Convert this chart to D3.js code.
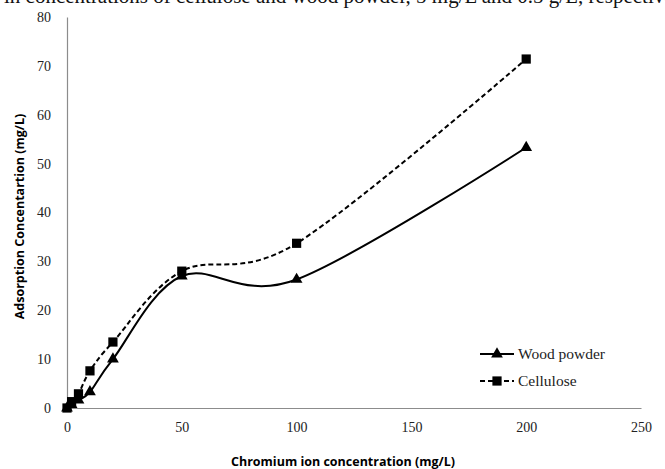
<!DOCTYPE html>
<html>
<head>
<meta charset="utf-8">
<script src="https://cdn.jsdelivr.net/npm/d3@7"></script>
<style>
  body { margin: 0; background: #fff; }
  svg { display: block; }
</style>
</head>
<body>
<svg id="chart"></svg>
<script>
// concentration of chromium ions (mg/L)
const xValues = [0, 2, 5, 10, 20, 50, 100, 200];
const woodPowder = [0, 0.7, 1.6, 3.3, 10, 27, 26.3, 53.3];
const cellulose = [0, 1.3, 2.9, 7.6, 13.5, 28, 33.7, 71.4];
const xTicks = [0, 50, 100, 150, 200, 250];
const yTicks = [0, 10, 20, 30, 40, 50, 60, 70, 80];

const W = 665, H = 469;
const margin = {top: 17, right: 24, bottom: 61, left: 67};

const svg = d3.select('#chart').attr('width', W).attr('height', H);

// line of page text above the figure, mostly cut off by the top edge
svg.append('text')
  .attr('x', 4).attr('y', 3)
  .attr('font-family', 'Liberation Serif, serif')
  .attr('font-size', 21)
  .attr('fill', '#111')
  .text('in concentrations of cellulose and wood powder, 5 mg/L and 0.5 g/L, respectively');

const x = d3.scaleLinear().domain([0, 250]).range([margin.left, W - margin.right]);
const y = d3.scaleLinear().domain([0, 80]).range([H - margin.bottom, margin.top]);

// axes (no tick marks, grey lines)
const xAxis = svg.append('g')
  .attr('transform', `translate(0,${y(0)})`)
  .call(d3.axisBottom(x).tickValues(xTicks).tickSize(0).tickPadding(14));
const yAxis = svg.append('g')
  .attr('transform', `translate(${x(0)},0)`)
  .call(d3.axisLeft(y).tickValues(yTicks).tickSize(0).tickPadding(16));

[xAxis, yAxis].forEach(a => {
  a.select('.domain').attr('stroke', '#8c8c8c').attr('stroke-width', 1.2);
  a.selectAll('text')
    .attr('font-family', 'Liberation Serif, serif')
    .attr('font-size', 14)
    .attr('fill', '#222');
});

// axis titles
svg.append('text')
  .attr('x', 343).attr('y', 466)
  .attr('text-anchor', 'middle')
  .attr('font-family', 'Open Sans, sans-serif')
  .attr('font-size', 12.5).attr('font-weight', 'bold')
  .text('Chromium ion concentration (mg/L)');

svg.append('text')
  .attr('transform', `translate(24,${(y(0) + y(80)) / 2 + 4}) rotate(-90)`)
  .attr('text-anchor', 'middle')
  .attr('font-family', 'Open Sans, sans-serif')
  .attr('font-size', 12.5).attr('font-weight', 'bold')
  .text('Adsorption Concentartion (mg/L)');

// smoothed lines, similar to excel "smooth line" scatter
const line = d3.line()
  .x(d => x(d[0]))
  .y(d => y(d[1]))
  .curve(d3.curveCardinal.tension(0));

const series = [
  {name: 'Wood powder', values: woodPowder, dash: null, symbol: d3.symbolTriangle},
  {name: 'Cellulose', values: cellulose, dash: '5,3', symbol: d3.symbolSquare}
];

series.forEach(s => {
  const pts = xValues.map((v, i) => [v, s.values[i]]);
  svg.append('path')
    .datum(pts)
    .attr('fill', 'none')
    .attr('stroke', '#000')
    .attr('stroke-width', 2)
    .attr('stroke-dasharray', s.dash)
    .attr('d', line);

  svg.selectAll(null)
    .data(pts)
    .enter().append('path')
    .attr('transform', d => `translate(${x(d[0])},${y(d[1])})`)
    .attr('d', d3.symbol().type(s.symbol).size(s.symbol === d3.symbolSquare ? 85 : 60))
    .attr('fill', '#000');
});

// legend
const legend = svg.append('g').attr('transform', 'translate(480,354)');
series.forEach((s, i) => {
  const g = legend.append('g').attr('transform', `translate(0,${i * 27})`);
  g.append('line')
    .attr('x1', 0).attr('x2', 34).attr('y1', 0).attr('y2', 0)
    .attr('stroke', '#000').attr('stroke-width', 2)
    .attr('stroke-dasharray', s.dash);
  g.append('path')
    .attr('transform', 'translate(17,0)')
    .attr('d', d3.symbol().type(s.symbol).size(s.symbol === d3.symbolSquare ? 85 : 60))
    .attr('fill', '#000');
  g.append('text')
    .attr('x', 38).attr('y', 5)
    .attr('font-family', 'Liberation Serif, serif')
    .attr('font-size', 15.5)
    .attr('fill', '#222')
    .text(s.name);
});
</script>
</body>
</html>
